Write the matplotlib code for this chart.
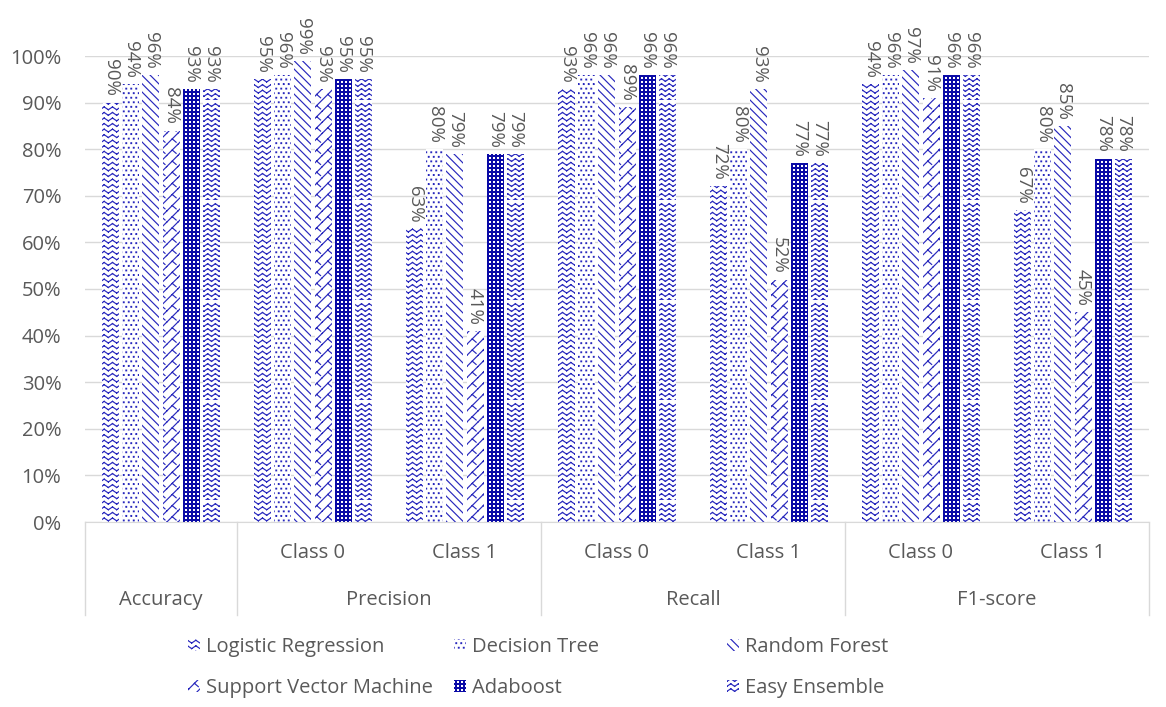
import warnings
import numpy as np
import matplotlib
matplotlib.use('Agg')
import matplotlib.pyplot as plt
import matplotlib.hatch as mhatch
from matplotlib.path import Path

warnings.filterwarnings('ignore')

# ---- data -------------------------------------------------------------
categories = ['', 'Class 0', 'Class 1', 'Class 0', 'Class 1', 'Class 0', 'Class 1']
groups = ['Accuracy', 'Precision', 'Recall', 'F1-score']
group_spans = [(0, 0), (1, 2), (3, 4), (5, 6)]

models = ['Logistic Regression', 'Decision Tree', 'Random Forest',
          'Support Vector Machine', 'Adaboost', 'Easy Ensemble']
logistic_regression = [90, 95, 63, 93, 72, 94, 67]
decision_tree = [94, 96, 80, 96, 80, 96, 80]
random_forest = [96, 99, 79, 96, 93, 97, 85]
support_vector_machine = [84, 93, 41, 89, 52, 91, 45]
adaboost = [93, 95, 79, 96, 77, 96, 78]
easy_ensemble = [93, 95, 79, 96, 77, 96, 78]
scores = [logistic_regression, decision_tree, random_forest,
          support_vector_machine, adaboost, easy_ensemble]


# ---- extra hatch patterns (unit cell = 1 inch) -----------------------
class SegmentHatch(mhatch.HatchPatternBase):
    char = None

    def __init__(self, hatch, density):
        self.segments = self.build() if (hatch and self.char in hatch) else []
        self.num_vertices = 2 * len(self.segments)

    def set_vertices_and_codes(self, vertices, codes):
        vertices[:] = np.asarray(self.segments, float).reshape(-1, 2)
        codes[0::2] = Path.MOVETO
        codes[1::2] = Path.LINETO


class ChevronUp(SegmentHatch):
    char = 'z'

    def build(self, rows=18, cols=12, amp=0.028, up=True):
        segs = []
        for r in range(rows):
            y = (r + 0.25) / rows
            for c in range(cols):
                x0, xm, x1 = c / cols, (c + 0.5) / cols, (c + 1) / cols
                y1 = y + amp if up else y - amp
                segs.append([(x0, y), (xm, y1)])
                segs.append([(xm, y1), (x1, y)])
        return segs


class ChevronDown(ChevronUp):
    char = 'w'

    def build(self):
        return ChevronUp.build(self, rows=20, cols=13, amp=0.026, up=False)


class Divot(SegmentHatch):
    char = 'y'

    def build(self, n=9):
        segs = []
        s = 1 / n
        for r in range(n):
            for c in range(n):
                x, y = c * s, r * s
                segs.append([(x, y), (x + s, y + s)])
                segs.append([(x + 0.5 * s, y + 0.5 * s), (x + 0.85 * s, y + 0.2 * s)])
        return segs


class SquareDots(mhatch.HatchPatternBase):
    char = None

    def __init__(self, hatch, density):
        self.centers = self.build() if (hatch and self.char in hatch) else np.empty((0, 2))
        self.num_vertices = 5 * len(self.centers)

    def set_vertices_and_codes(self, vertices, codes):
        h = self.size / 2
        box = np.array([[-h, -h], [h, -h], [h, h], [-h, h], [-h, -h]])
        vertices[:] = (self.centers[:, None, :] + box[None]).reshape(-1, 2)
        codes[:] = np.tile([Path.MOVETO, Path.LINETO, Path.LINETO,
                            Path.LINETO, Path.CLOSEPOLY], len(self.centers))


class Dots(SquareDots):
    char = 'd'
    size = 0.007

    def build(self, rows=22, cols=20):
        pts = []
        for r in range(rows):
            shift = 0.5 if r % 2 else 0.0
            for c in range(cols):
                pts.append(((c + 0.25 + shift) / cols, (r + 0.5) / rows))
        return np.array(pts)


class Checks(SquareDots):
    char = 'q'
    size = 0.008

    def build(self, n=25):
        g = (np.arange(n) + 0.5) / n
        xx, yy = np.meshgrid(g, g)
        return np.column_stack([xx.ravel(), yy.ravel()])


mhatch._hatch_types.extend([ChevronUp, ChevronDown, Divot, Dots, Checks])

blue = '#2828bd'
navy = '#0a0aa6'
styles = [
    dict(facecolor='white', edgecolor=blue, hatch='z'),
    dict(facecolor='white', edgecolor=blue, hatch='d'),
    dict(facecolor='white', edgecolor=blue, hatch='\\\\\\\\'),
    dict(facecolor='white', edgecolor=blue, hatch='y'),
    dict(facecolor=navy, edgecolor='white', hatch='q'),
    dict(facecolor='white', edgecolor=blue, hatch='w'),
]

# ---- figure -----------------------------------------------------------
plt.rcParams['font.family'] = ['Open Sans', 'DejaVu Sans']
plt.rcParams['hatch.linewidth'] = 0.85
text_color = '#595959'
grid_color = '#d9d9d9'
fs = 14.5

fig = plt.figure(figsize=(11.66, 7.07), dpi=100)
ax = fig.add_axes([85 / 1166, 1 - 522 / 707, 1064 / 1166, 466 / 707])

x = np.arange(len(categories))
pitch, width = 0.132, 0.112
handles = []
for i, (name, vals, st) in enumerate(zip(models, scores, styles)):
    bars = ax.bar(x + (i - 2.5) * pitch, vals, width, linewidth=0,
                  label=name, zorder=2, **st)
    handles.append(bars)
    for rect, v in zip(bars, vals):
        ax.annotate(f'{v}%', (rect.get_x() + rect.get_width() / 2, v),
                    xytext=(0, 4.5), textcoords='offset points',
                    rotation=270, ha='center', va='bottom',
                    fontsize=13.5, color=text_color, annotation_clip=False)

ax.set_xlim(-0.5, len(categories) - 0.5)
ax.set_ylim(0, 100)
ax.set_yticks(np.arange(0, 101, 10))
ax.set_yticklabels([f'{t}%' for t in range(0, 101, 10)])
ax.set_xticks([])
ax.tick_params(axis='y', length=0, pad=17, labelsize=fs, labelcolor=text_color)
ax.yaxis.grid(True, color=grid_color, linewidth=1)
ax.set_axisbelow(True)
for side in ['top', 'right', 'left']:
    ax.spines[side].set_visible(False)
ax.spines['bottom'].set_color(grid_color)

# two-level category axis
xt = ax.get_xaxis_transform()
for xi, lab in zip(x, categories):
    if lab:
        ax.text(xi, -0.066, lab, transform=xt, ha='center', va='center',
                fontsize=fs, color=text_color)
for (a, b), g in zip(group_spans, groups):
    ax.text((a + b) / 2, -0.167, g, transform=xt, ha='center', va='center',
            fontsize=fs, color=text_color)
for xb in [-0.5] + [b + 0.5 for a, b in group_spans]:
    ax.plot([xb, xb], [0, -0.199], transform=xt, color=grid_color,
            linewidth=1, clip_on=False)

# legend laid out as a 3 x 2 grid of equal columns
col_x = [188 / 1166, 454 / 1166, 727 / 1166]
row_y = [1 - 647 / 707, 1 - 688 / 707]
for i, (h, name) in enumerate(zip(handles, models)):
    fig.legend([h], [name], loc='center left',
               bbox_to_anchor=(col_x[i % 3], row_y[i // 3]),
               frameon=False, fontsize=fs, labelcolor=text_color,
               handlelength=0.6, handleheight=0.6, handletextpad=0.3,
               borderpad=0, borderaxespad=0)

fig.savefig('out.png', dpi=100)
